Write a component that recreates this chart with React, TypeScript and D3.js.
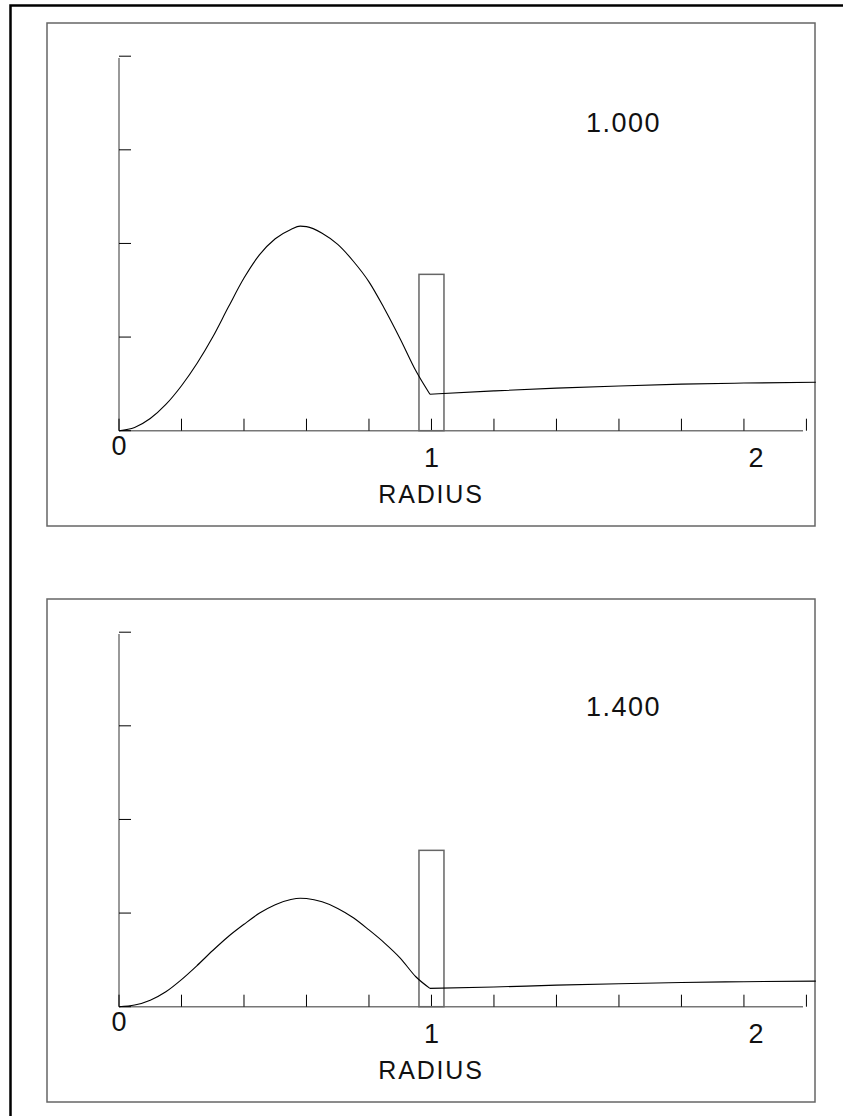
import React from "react";
import * as d3 from "d3";

// radius sample points; the inner branch ends at the shell (~1.0), the outer one continues
const innerRadius = [0, 0.05, 0.1, 0.15, 0.2, 0.25, 0.3, 0.35, 0.4, 0.45, 0.5, 0.55, 0.58, 0.6, 0.65, 0.7, 0.75, 0.8, 0.85, 0.9, 0.95, 0.995];
const outerRadius = [0.995, 1.2, 1.4, 1.6, 1.8, 2.0, 2.23];

const panelLabels = ["1.000", "1.400"];

const innerValues = [
  [0, 0.035, 0.13, 0.28, 0.48, 0.72, 1.0, 1.32, 1.63, 1.88, 2.05, 2.15, 2.185, 2.18, 2.11, 1.99, 1.81, 1.59, 1.3, 0.98, 0.64, 0.39],
  [0, 0.018, 0.07, 0.16, 0.29, 0.44, 0.6, 0.75, 0.88, 1.0, 1.09, 1.145, 1.158, 1.155, 1.12, 1.05, 0.95, 0.82, 0.68, 0.52, 0.32, 0.196],
];
const outerValues = [
  [0.39, 0.425, 0.455, 0.478, 0.497, 0.509, 0.517],
  [0.196, 0.21, 0.23, 0.245, 0.258, 0.267, 0.273],
];

// shell bar
const shellFrom = 0.96;
const shellTo = 1.04;
const shellHeight = [1.67, 1.67];

const xTicks = d3.range(0, 2.2001, 0.2);
const yTicks = [0, 1, 2, 3, 4];
const xLabels = [0, 1, 2];

const FONT = "'Liberation Sans', Arial, sans-serif";

function Panel({ idx, offset, labelDy }: { idx: number; offset: number; labelDy: number }) {
  const x = d3.scaleLinear().domain([0, 2.189]).range([119, 803]);
  const y = d3.scaleLinear().domain([0, 4]).range([430.7, 56.2]);
  const line = d3
    .line<[number, number]>()
    .x((d) => x(d[0]))
    .y((d) => y(d[1]))
    .curve(d3.curveMonotoneX);

  const inner = innerRadius.map((r, i) => [r, innerValues[idx][i]] as [number, number]);
  const outer = outerRadius.map((r, i) => [r, outerValues[idx][i]] as [number, number]);

  return (
    <g transform={`translate(0,${offset})`}>
      <rect x={47} y={23} width={768} height={503} fill="none" stroke="#666" strokeWidth={1.5} />

      {/* axes */}
      <line x1={x(0)} x2={x(0)} y1={58} y2={y(0)} stroke="#777" strokeWidth={1.5} />
      <line x1={x(0)} x2={x.range()[1]} y1={y(0)} y2={y(0)} stroke="#777" strokeWidth={1.5} />
      {yTicks.map((t) => (
        <line key={"y" + t} x1={x(0)} x2={x(0) + 12} y1={y(t)} y2={y(t)} stroke="#000" strokeWidth={1} />
      ))}
      {xTicks.map((t) => (
        <line key={"x" + t} x1={x(t)} x2={x(t)} y1={y(0)} y2={y(0) - 12} stroke="#000" strokeWidth={1} />
      ))}
      {xLabels.map((t) => (
        <text
          key={"l" + t}
          x={x(t) + (t === 2 ? 12 : 0)}
          y={y(0) + (t === 0 ? 24 : 36)}
          textAnchor="middle"
          fontFamily={FONT}
          fontSize={27}
          fill="#111"
        >
          {t}
        </text>
      ))}
      <text x={431} y={502.5} textAnchor="middle" fontFamily={FONT} fontSize={25} letterSpacing={1.8} fill="#111">
        RADIUS
      </text>

      {/* shell */}
      <rect
        x={x(shellFrom)}
        y={y(shellHeight[idx])}
        width={x(shellTo) - x(shellFrom)}
        height={y(0) - y(shellHeight[idx])}
        fill="none"
        stroke="#666"
        strokeWidth={1.5}
      />

      <path d={line(inner) || ""} fill="none" stroke="#000" strokeWidth={1.1} />
      <path d={line(outer) || ""} fill="none" stroke="#000" strokeWidth={1.1} />

      <text x={623.5} y={131.5 + labelDy} textAnchor="middle" fontFamily={FONT} fontSize={27} letterSpacing={1.5} fill="#111">
        {panelLabels[idx]}
      </text>
    </g>
  );
}

export default function App() {
  return (
    <svg
      width={843}
      height={1116}
      style={{ position: "absolute", left: 0, top: 0, background: "#fff" }}
    >
      <rect x={0} y={0} width={843} height={1116} fill="#fff" />
      <rect x={10.5} y={5.5} width={900} height={1200} fill="none" stroke="#000" strokeWidth={2.5} />
      <Panel idx={0} offset={0} labelDy={0} />
      <Panel idx={1} offset={576} labelDy={8} />
    </svg>
  );
}
